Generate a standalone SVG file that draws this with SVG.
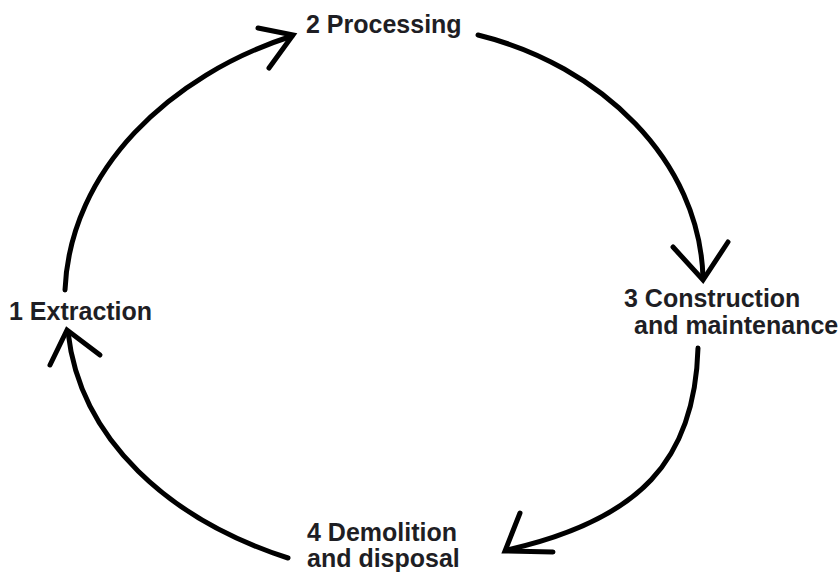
<svg xmlns="http://www.w3.org/2000/svg" width="840" height="577" viewBox="0 0 840 577">
<style>
.lbl{font-family:"Liberation Sans",Arial,sans-serif;font-weight:bold;font-size:25px;fill:#1e1e24}
.arc{fill:none;stroke:#000;stroke-width:5;stroke-linecap:round}
.head{fill:none;stroke:#000;stroke-width:5;stroke-linejoin:miter;stroke-linecap:round}
</style>
<rect width="840" height="577" fill="#fff"/>
<g id="connectors">
<path class="arc" d="M65,290 C70,170 170,75 292,36"/>
<path class="head" d="M258,28 L293,35 L269,68"/>
<path class="arc" d="M478,35 C600,65 700,160 703,278"/>
<path class="head" d="M673,247 L703,280 L728,242"/>
<path class="arc" d="M698,348 C695,460 640,520 507,550"/>
<path class="head" d="M520,513 L505,551 L553,552"/>
<path class="arc" d="M288,558 C170,520 80,440 68,332"/>
<path class="head" d="M50,365 L67,330 L100,355"/>
</g>
<g id="node1"><text class="lbl" x="9" y="320">1 Extraction</text></g>
<g id="node2"><text class="lbl" x="306" y="33">2 Processing</text></g>
<g id="node3"><text class="lbl" x="624" y="307">3 Construction</text><text class="lbl" x="634" y="334">and maintenance</text></g>
<g id="node4"><text class="lbl" x="307" y="541">4 Demolition</text><text class="lbl" x="307" y="567">and disposal</text></g>
</svg>
